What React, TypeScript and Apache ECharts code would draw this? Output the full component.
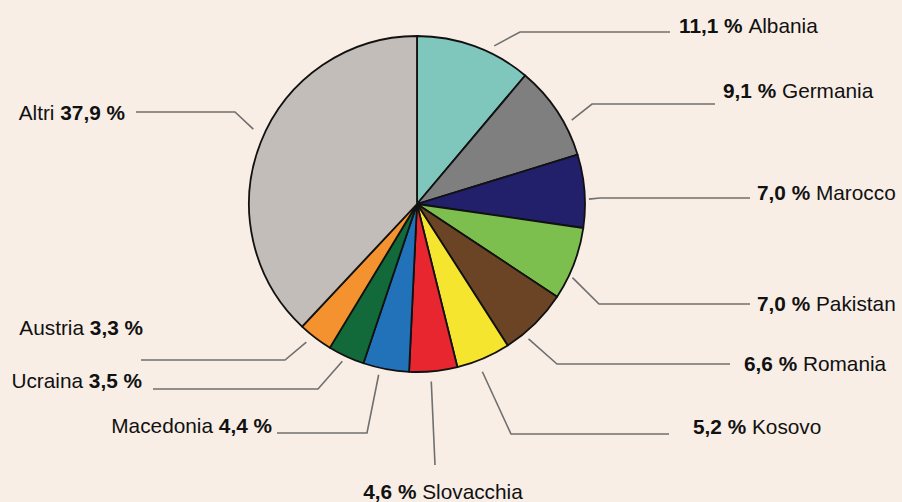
import React, { useEffect, useRef } from 'react';
import * as echarts from 'echarts';

// ---- data ----
const categories = ['Albania', 'Germania', 'Marocco', 'Pakistan', 'Romania', 'Kosovo', 'Slovacchia', 'Macedonia', 'Ucraina', 'Austria', 'Altri'];
const shares = [11.1, 9.1, 7.0, 7.0, 6.6, 5.2, 4.6, 4.4, 3.5, 3.3, 37.9];
const colors = ['#7fc6bc', '#7f7f7f', '#22206b', '#7dbf4e', '#6a4424', '#f5e52e', '#e8262f', '#2272b9', '#12693a', '#f3922e', '#c2bdb8'];

// ---- label layout (positions only) ----
const labelSide = ['right', 'right', 'right', 'right', 'right', 'right', 'bottom', 'left', 'left', 'left', 'left'];
const labelTextPos = [[679, 25], [723, 90], [757, 192], [757, 303], [744, 363], [693, 426], [443, 491], [272, 425], [142, 380], [143, 327], [125, 112]];
const labelElbow = [[520, 32], [592, 104], [600, 198], [599, 304], [557, 364], [511, 434], [435, 465], [367, 433], [318, 389], [285, 360], [235, 112]];
const labelLineEnd = [[670, 32], [715, 104], [750, 198], [750, 304], [730, 364], [669, 434], [435, 465], [277, 433], [153, 389], [141, 360], [136, 112]];
const labelNudge = [6, 5, 2.8, 4.5, 5, 2, 1, 2, 0.5, 1.5, 3];
const labelGap = [8, 8, 4, 4, 7, 12, 10, 7, 6, 9, 12];

const CX = 417;
const CY = 204;
const R = 168;
const FONT = 'Liberation Sans, Arial, sans-serif';
const FS = 20.8;

const fmt = (v: number) => v.toFixed(1).replace('.', ',') + ' %';

export default function App() {
  const ref = useRef<HTMLDivElement>(null);

  useEffect(() => {
    if (!ref.current) return;
    const chart = echarts.init(ref.current, null, { renderer: 'svg' });
    const total = shares.reduce((a, b) => a + b, 0);

    const option: any = {
      animation: false,
      backgroundColor: '#f8eee6',
      series: [
        {
          type: 'pie',
          center: [CX, CY],
          radius: [0, R],
          startAngle: 90,
          clockwise: true,
          avoidLabelOverlap: false,
          minShowLabelAngle: 0,
          data: categories.map((name, i) => ({
            name,
            value: shares[i],
            itemStyle: { color: colors[i] },
          })),
          itemStyle: { borderColor: '#111111', borderWidth: 1.8 },
          label: {
            show: true,
            position: 'outside',
            fontFamily: FONT,
            fontSize: FS,
            color: '#111111',
            formatter: (p: any) => {
              const i = p.dataIndex;
              if (labelSide[i] === 'left') return `{n|${p.name}} {b|${fmt(p.value)}}`;
              return `{b|${fmt(p.value)}} {n|${p.name}}`;
            },
            rich: {
              b: { fontWeight: 'bold', fontSize: FS, color: '#111111', fontFamily: FONT },
              n: { fontSize: FS, color: '#111111', fontFamily: FONT },
            },
          },
          labelLine: {
            show: true,
            length: 10,
            length2: 10,
            lineStyle: { color: '#6f6f6f', width: 1.6 },
          },
          labelLayout: (p: any) => {
            const i = p.dataIndex;
            let ang: number;
            const pts = p.labelLinePoints;
            if (pts && pts[0]) {
              ang = Math.atan2(pts[0][1] - CY, pts[0][0] - CX);
            } else {
              let cum = 0;
              for (let k = 0; k < i; k++) cum += shares[k];
              const frac = (cum + shares[i] / 2) / total;
              ang = -Math.PI / 2 + frac * Math.PI * 2;
            }
            ang += (labelNudge[i] * Math.PI) / 180;
            const rr = R + labelGap[i];
            const start = [CX + rr * Math.cos(ang), CY + rr * Math.sin(ang)];
            const side = labelSide[i];
            return {
              x: labelTextPos[i][0],
              y: labelTextPos[i][1],
              align: side === 'left' ? 'right' : side === 'bottom' ? 'center' : 'left',
              verticalAlign: 'middle',
              labelLinePoints: [start, labelElbow[i], labelLineEnd[i]],
            };
          },
        },
      ],
    };

    chart.setOption(option);
    return () => chart.dispose();
  }, []);

  return (
    <div
      ref={ref}
      style={{ position: 'fixed', left: 0, top: 0, width: 902, height: 502, background: '#f8eee6' }}
    />
  );
}
